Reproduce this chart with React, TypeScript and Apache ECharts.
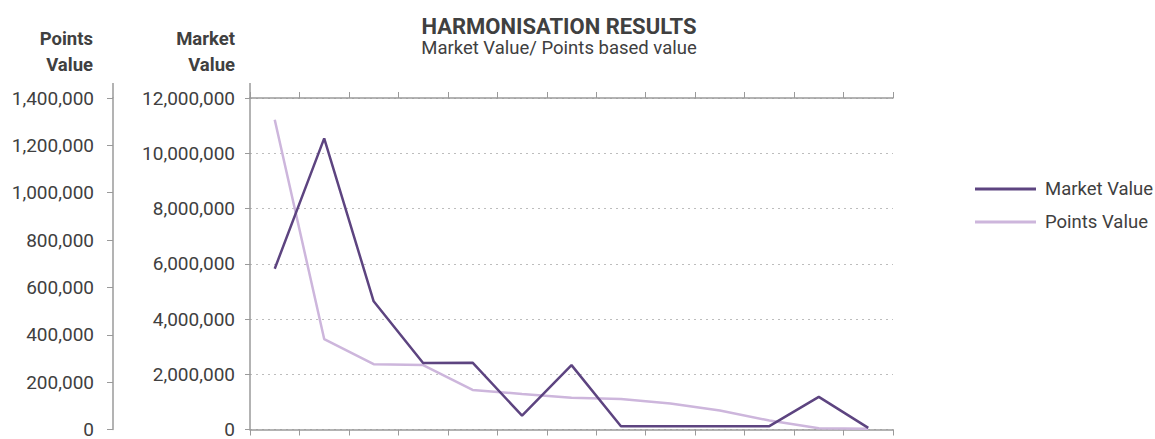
import React, { useEffect, useRef } from "react";
import * as echarts from "echarts";

const categories = ["1", "2", "3", "4", "5", "6", "7", "8", "9", "10", "11", "12", "13"];
const marketValue = [5820000, 10540000, 4640000, 2410000, 2420000, 500000, 2330000, 120000, 120000, 120000, 120000, 1180000, 60000];
const pointsValue = [1308000, 382000, 276000, 272000, 167000, 150000, 134000, 129000, 110000, 80000, 38000, 5000, 3000];
const marketTicks = { min: 0, max: 12000000, interval: 2000000 };
const pointsTicks = { min: 0, max: 1400000, interval: 200000 };

const FONT = "Roboto";
const TEXT = "#404040";
const AXIS = "#9a9a9a";
const MARKET_COLOR = "#5d4480";
const POINTS_COLOR = "#cdb6dc";

const fmt = (v: number) => v.toLocaleString("en-US");

export default function App() {
  const ref = useRef<HTMLDivElement>(null);
  useEffect(() => {
    document.body.style.margin = "0";
    const chart = echarts.init(ref.current!, null, { renderer: "svg" });
    chart.setOption({
      animation: false,
      textStyle: { fontFamily: FONT },
      title: {
        text: "HARMONISATION RESULTS",
        subtext: "Market Value/ Points based value",
        left: 554,
        textAlign: "center",
        top: 12,
        itemGap: 0,
        textStyle: { fontFamily: FONT, fontSize: 22, fontWeight: "bold", color: TEXT, lineHeight: 19 },
        subtextStyle: { fontFamily: FONT, fontSize: 18.5, color: TEXT, lineHeight: 18 },
      },
      legend: {
        orient: "vertical",
        left: 970,
        top: 173,
        icon: "rect",
        itemWidth: 61,
        itemHeight: 3,
        itemGap: 11,
        textStyle: { fontFamily: FONT, fontSize: 18.5, color: TEXT, lineHeight: 22, padding: [0, 0, 0, 4] },
        data: ["Market Value", "Points Value"],
      },
      grid: { left: 250, right: 262, top: 98, bottom: 5, containLabel: false },
      xAxis: [
        {
          type: "category",
          data: categories,
          position: "bottom",
          boundaryGap: true,
          axisLine: { onZero: false, lineStyle: { color: AXIS, width: 1.5 } },
          axisTick: { show: true, length: 6, lineStyle: { color: AXIS } },
          axisLabel: { show: false },
        },
        {
          type: "category",
          data: categories,
          position: "top",
          boundaryGap: true,
          axisLine: { onZero: false, lineStyle: { color: AXIS, width: 1.5 } },
          axisTick: { show: true, length: 6, lineStyle: { color: AXIS } },
          axisLabel: { show: false },
        },
      ],
      yAxis: [
        {
          type: "value",
          position: "left",
          ...marketTicks,
          axisLine: { show: true, lineStyle: { color: AXIS, width: 1.5 } },
          axisTick: { show: true, length: 5, lineStyle: { color: AXIS } },
          axisLabel: { margin: 15, fontFamily: FONT, fontSize: 19, color: TEXT, formatter: fmt },
          splitLine: { show: true, lineStyle: { color: "#bdbdbd", type: [2, 4], width: 1 } },
        },
        {
          type: "value",
          position: "left",
          offset: 137,
          ...pointsTicks,
          axisLine: { show: true, lineStyle: { color: AXIS, width: 1.5 } },
          axisTick: { show: true, length: 6, lineStyle: { color: AXIS } },
          axisLabel: { margin: 19, fontFamily: FONT, fontSize: 19, color: TEXT, formatter: fmt },
          splitLine: { show: false },
        },
      ],
      graphic: [
        { type: "line", shape: { x1: 113, y1: 83, x2: 113, y2: 98 }, style: { stroke: AXIS, lineWidth: 1.5 } },
        { type: "line", shape: { x1: 250, y1: 83, x2: 250, y2: 98 }, style: { stroke: AXIS, lineWidth: 1.5 } },
        {
          type: "text",
          x: 93,
          y: 26,
          style: { text: "Points\nValue", align: "right", verticalAlign: "top", font: `bold 18.5px ${FONT}`, fill: TEXT, lineHeight: 26 },
        },
        {
          type: "text",
          x: 235,
          y: 26,
          style: { text: "Market\nValue", align: "right", verticalAlign: "top", font: `bold 18.5px ${FONT}`, fill: TEXT, lineHeight: 26 },
        },
      ],
      series: [
        {
          name: "Market Value",
          type: "line",
          xAxisIndex: 0,
          yAxisIndex: 0,
          data: marketValue,
          showSymbol: false,
          symbol: "none",
          itemStyle: { color: MARKET_COLOR },
          lineStyle: { color: MARKET_COLOR, width: 2.5 },
          z: 3,
        },
        {
          name: "Points Value",
          type: "line",
          xAxisIndex: 0,
          yAxisIndex: 1,
          data: pointsValue,
          showSymbol: false,
          symbol: "none",
          itemStyle: { color: POINTS_COLOR },
          lineStyle: { color: POINTS_COLOR, width: 2.5 },
          z: 2,
        },
      ],
    });
    return () => chart.dispose();
  }, []);
  return <div ref={ref} style={{ width: 1155, height: 439 }} />;
}
